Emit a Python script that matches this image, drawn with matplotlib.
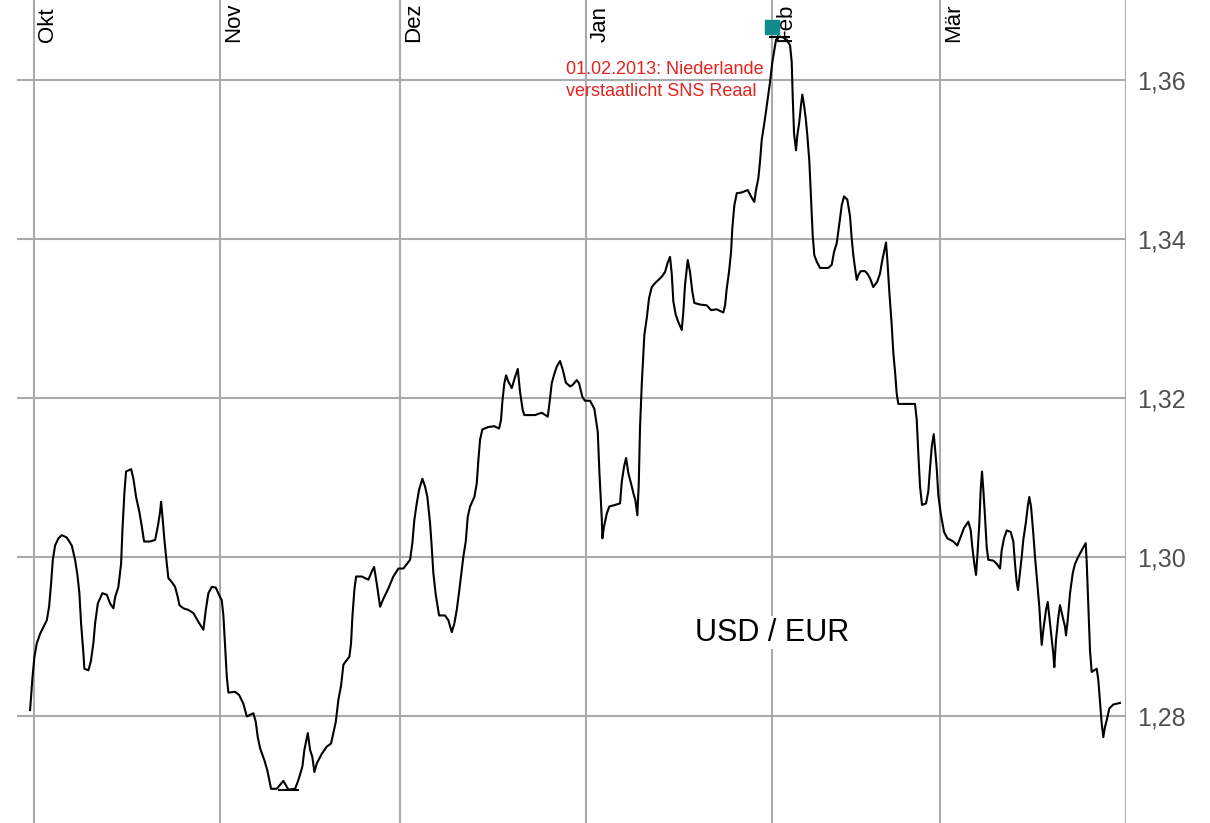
import numpy as np
import pandas as pd
import matplotlib
matplotlib.use("Agg")
import matplotlib.pyplot as plt
from matplotlib.ticker import FuncFormatter

plt.rcParams['font.family'] = ['Liberation Sans', 'DejaVu Sans']

# USD/EUR rate, x as days since 01.10.2012
days = [
    -0.62, -0.23, 0.1, 0.5, 1.05, 2.17, 2.55, 2.88, 3.17, 3.55, 4.1, 4.67, 5.5, 6.33, 6.88, 7.27, 7.6, 7.88, 8.27, 8.43,
    9.1, 9.5, 9.93, 10.22, 10.67, 11.43, 12.17, 12.72, 13.27, 13.55, 14.1, 14.55, 14.77, 15.1, 15.38, 16.22, 16.6, 17.05, 17.6, 18.0,
    18.38, 19.38, 20.22, 20.67, 21.05, 21.22, 21.43, 21.77, 22.17, 22.43, 23.0, 23.55, 24.0, 24.27, 24.93, 25.77, 26.6, 27.43, 28.27, 28.67,
    29.1, 29.67, 30.33, 30.88, 31.33, 31.6, 31.88, 32.17, 32.43, 33.55, 34.22, 34.93, 35.5, 36.05, 36.6, 37.0, 37.33, 37.72, 38.43, 38.93,
    39.55, 40.5, 41.6, 42.43, 43.55, 44.1, 44.77, 45.1, 45.67, 46.05, 46.43, 46.77, 47.17, 48.0, 48.83, 49.55, 49.93, 50.33, 50.77, 51.22,
    51.6, 52.17, 52.6, 52.88, 53.1, 53.43, 53.72, 54.67, 55.77, 56.33, 56.72, 57.17, 57.72, 58.27, 59.1, 59.93, 60.77, 61.6, 62.72, 63.1,
    63.43, 63.83, 64.22, 64.77, 65.22, 65.6, 66.05, 66.33, 66.6, 67.0, 67.55, 68.55, 69.1, 69.67, 70.1, 70.5, 70.93, 71.33, 71.6, 72.0,
    72.33, 72.72, 73.43, 73.83, 74.1, 74.38, 74.77, 75.77, 76.77, 77.55, 77.88, 78.1, 78.43, 78.72, 79.1, 79.67, 80.22, 80.67, 81.05, 81.5,
    81.77, 83.55, 84.67, 85.67, 86.05, 86.33, 86.77, 87.17, 87.72, 88.17, 88.67, 89.38, 89.83, 90.5, 90.88, 91.43, 91.88, 92.72, 93.43, 94.0,
    94.27, 94.67, 94.77, 95.05, 95.5, 95.93, 96.88, 97.72, 98.0, 98.38, 98.72, 99.1, 99.55, 99.93, 100.27, 100.6, 100.83, 101.05, 101.33, 101.77,
    102.17, 102.55, 103.0, 103.55, 104.67, 105.22, 105.67, 106.05, 106.33, 106.6, 107.0, 107.43, 108.0, 108.27, 108.55, 109.0, 109.38, 109.77, 110.1, 111.05,
    112.17, 112.88, 113.83, 114.93, 115.22, 115.5, 115.88, 116.22, 116.43, 116.77, 117.17, 118.0, 119.0, 119.55, 120.1, 120.33, 120.77, 121.05, 121.33, 121.88,
    122.33, 122.72, 123.1, 123.38, 123.72, 124.27, 124.93, 125.5, 126.05, 126.33, 126.5, 126.72, 127.05, 127.27, 127.6, 127.88, 128.1, 128.38, 128.67, 128.93,
    129.27, 129.55, 129.83, 130.1, 130.5, 131.05, 132.43, 133.0, 133.38, 133.83, 134.1, 134.38, 134.67, 135.05, 135.6, 136.05, 136.33, 136.6, 136.88, 137.17,
    137.43, 137.83, 138.55, 138.93, 139.38, 139.93, 140.6, 141.05, 141.38, 141.72, 142.05, 142.27, 142.6, 143.0, 143.27, 143.55, 143.83, 144.1, 146.88, 147.17,
    147.43, 147.72, 148.05, 148.72, 149.1, 149.38, 149.67, 150.0, 150.22, 150.5, 150.77, 151.17, 151.72, 152.27, 153.27, 153.93, 154.5, 155.05, 155.77, 156.17,
    156.43, 156.77, 157.05, 157.27, 157.6, 157.83, 158.05, 158.27, 158.55, 158.83, 159.1, 159.93, 160.5, 161.05, 161.33, 161.72, 162.17, 162.83, 163.27, 163.55,
    163.83, 164.05, 164.38, 164.67, 164.93, 165.38, 165.67, 165.93, 166.22, 166.6, 166.88, 167.27, 167.6, 167.83, 168.0, 168.27, 168.72, 169.0, 169.27, 169.55,
    169.93, 170.1, 170.38, 170.77, 171.05, 171.5, 171.88, 172.05, 172.33, 172.72, 173.17, 173.55, 174.1, 174.67, 175.33, 175.5, 175.77, 176.05, 176.33, 177.17,
    177.43, 177.72, 178.0, 178.27, 178.55, 178.83, 179.27, 179.93, 181.05,
]
rate = [
    1.2808, 1.2848, 1.2875, 1.2892, 1.2904, 1.2921, 1.2938, 1.2967, 1.2997, 1.3015, 1.3024, 1.3028, 1.3025, 1.3015, 1.2997, 1.2978, 1.2955, 1.2917, 1.2879, 1.2860,
    1.2858, 1.2869, 1.2892, 1.2917, 1.2942, 1.2955, 1.2953, 1.2942, 1.2936, 1.2950, 1.2963, 1.2992, 1.3034, 1.3081, 1.3108, 1.3111, 1.3099, 1.3076, 1.3057, 1.3039,
    1.3020, 1.3020, 1.3022, 1.3039, 1.3057, 1.3070, 1.3053, 1.3022, 1.2992, 1.2974, 1.2969, 1.2963, 1.2950, 1.2940, 1.2936, 1.2934, 1.2930, 1.2919, 1.2909, 1.2934,
    1.2955, 1.2963, 1.2962, 1.2953, 1.2946, 1.2927, 1.2888, 1.2850, 1.2830, 1.2831, 1.2827, 1.2816, 1.2800, 1.2802, 1.2804, 1.2793, 1.2774, 1.2760, 1.2745, 1.2732,
    1.2709, 1.2709, 1.2719, 1.2708, 1.2709, 1.2720, 1.2737, 1.2758, 1.2779, 1.2758, 1.2749, 1.2730, 1.2741, 1.2753, 1.2762, 1.2766, 1.2779, 1.2793, 1.2821, 1.2839,
    1.2865, 1.2871, 1.2875, 1.2892, 1.2925, 1.2959, 1.2976, 1.2976, 1.2972, 1.2982, 1.2988, 1.2967, 1.2938, 1.2948, 1.2961, 1.2976, 1.2986, 1.2986, 1.2997, 1.3018,
    1.3047, 1.3068, 1.3085, 1.3099, 1.3089, 1.3076, 1.3043, 1.3013, 1.2980, 1.2953, 1.2927, 1.2927, 1.2921, 1.2906, 1.2917, 1.2934, 1.2959, 1.2984, 1.3001, 1.3020,
    1.3051, 1.3064, 1.3076, 1.3093, 1.3122, 1.3148, 1.3161, 1.3164, 1.3165, 1.3162, 1.3173, 1.3196, 1.3219, 1.3229, 1.3221, 1.3213, 1.3227, 1.3237, 1.3208, 1.3185,
    1.3179, 1.3179, 1.3182, 1.3177, 1.3200, 1.3219, 1.3231, 1.3240, 1.3247, 1.3236, 1.3220, 1.3215, 1.3217, 1.3223, 1.3219, 1.3202, 1.3197, 1.3197, 1.3187, 1.3158,
    1.3108, 1.3049, 1.3024, 1.3039, 1.3055, 1.3064, 1.3066, 1.3068, 1.3095, 1.3114, 1.3125, 1.3106, 1.3093, 1.3081, 1.3072, 1.3053, 1.3091, 1.3164, 1.3217, 1.3280,
    1.3301, 1.3326, 1.3340, 1.3345, 1.3353, 1.3359, 1.3371, 1.3378, 1.3357, 1.3322, 1.3305, 1.3296, 1.3286, 1.3309, 1.3343, 1.3374, 1.3359, 1.3334, 1.3320, 1.3318,
    1.3317, 1.3311, 1.3312, 1.3308, 1.3317, 1.3338, 1.3359, 1.3384, 1.3414, 1.3443, 1.3458, 1.3459, 1.3462, 1.3454, 1.3447, 1.3460, 1.3477, 1.3498, 1.3525, 1.3552,
    1.3577, 1.3598, 1.3623, 1.3636, 1.3651, 1.3655, 1.3654, 1.3651, 1.3644, 1.3623, 1.3579, 1.3533, 1.3512, 1.3531, 1.3548, 1.3569, 1.3582, 1.3569, 1.3552, 1.3531,
    1.3498, 1.3452, 1.3405, 1.3380, 1.3372, 1.3364, 1.3364, 1.3368, 1.3384, 1.3395, 1.3410, 1.3426, 1.3443, 1.3454, 1.3450, 1.3429, 1.3401, 1.3380, 1.3364, 1.3349,
    1.3355, 1.3360, 1.3360, 1.3357, 1.3351, 1.3340, 1.3347, 1.3357, 1.3372, 1.3384, 1.3396, 1.3374, 1.3334, 1.3292, 1.3257, 1.3234, 1.3206, 1.3193, 1.3193, 1.3173,
    1.3131, 1.3089, 1.3066, 1.3068, 1.3083, 1.3112, 1.3139, 1.3155, 1.3137, 1.3112, 1.3078, 1.3055, 1.3032, 1.3024, 1.3020, 1.3015, 1.3026, 1.3037, 1.3045, 1.3034,
    1.3013, 1.2992, 1.2978, 1.3001, 1.3043, 1.3085, 1.3108, 1.3085, 1.3051, 1.3013, 1.2997, 1.2996, 1.2992, 1.2986, 1.3009, 1.3024, 1.3034, 1.3032, 1.3020, 1.2992,
    1.2969, 1.2959, 1.2982, 1.3001, 1.3022, 1.3045, 1.3064, 1.3076, 1.3064, 1.3030, 1.3001, 1.2967, 1.2938, 1.2909, 1.2890, 1.2909, 1.2934, 1.2944, 1.2925, 1.2904,
    1.2879, 1.2862, 1.2896, 1.2925, 1.2940, 1.2925, 1.2913, 1.2902, 1.2921, 1.2955, 1.2980, 1.2992, 1.3001, 1.3009, 1.3018, 1.2994, 1.2938, 1.2883, 1.2856, 1.2860,
    1.2846, 1.2818, 1.2791, 1.2774, 1.2787, 1.2795, 1.2810, 1.2815, 1.2817,
]

months = ['Okt', 'Nov', 'Dez', 'Jan', 'Feb', 'Mär']
yticks = [1.28, 1.30, 1.32, 1.34, 1.36]
event_date = '2013-02-01'
event_text = '01.02.2013: Niederlande\nverstaatlicht SNS Reaal'
event_marker = 1.3667
title_text = 'USD / EUR'
title_level = 1.2905

grid_col = '#aaaaae'

start = pd.Timestamp('2012-10-01')
dates = start + pd.to_timedelta(days, unit='D')
rate = np.array(rate)
month_starts = pd.date_range('2012-10-01', '2013-04-01', freq='MS')

fig = plt.figure(figsize=(12.1, 8.23), dpi=100)
ax = fig.add_axes([17 / 1210, 0, (1125.7 - 17) / 1210, 1])

ax.plot(dates, rate, color='black', lw=1.5, zorder=3)

# hoch / tief markierung
for i in [rate.argmax(), rate.argmin()]:
    ax.hlines(rate[i], dates[i] - pd.Timedelta(days=1.8), dates[i] + pd.Timedelta(days=1.8),
              color='black', lw=1.5, zorder=3)

ax.set_xlim(start - pd.Timedelta(days=2.8), month_starts[-1])
ax.set_ylim(1.2666, 1.3701)

ax.set_xticks(month_starts)
ax.set_yticks(yticks)
ax.yaxis.tick_right()
ax.yaxis.set_major_formatter(FuncFormatter(lambda v, p: ('%.2f' % v).replace('.', ',')))
ax.tick_params(axis='x', length=0, labelbottom=False)
ax.tick_params(axis='y', length=0, pad=8, labelsize=18, labelcolor='#505050')
ax.grid(True, color=grid_col, lw=1.5)
ax.set_axisbelow(True)
for s in ax.spines.values():
    s.set_visible(False)

for m, d in zip(months, month_starts[:-1]):
    ax.annotate(m, xy=(d, 1), xycoords=('data', 'axes fraction'),
                xytext=(2.5, -30), textcoords='offset points',
                rotation=90, ha='left', va='bottom', fontsize=16, color='black')

ev = pd.Timestamp(event_date)
ax.plot([ev], [event_marker], 's', ms=9.5, color='#0f8c8c', zorder=4, clip_on=False)
ax.annotate(event_text, xy=(ev, 1), xycoords=('data', 'axes fraction'),
            xytext=(-6, -44), textcoords='offset points',
            ha='right', va='top', multialignment='left',
            fontsize=13, color='#e3231f', linespacing=1.4)

ax.text(ev, title_level, title_text, ha='center', va='center', fontsize=22, color='black',
        bbox=dict(facecolor='white', edgecolor='none', pad=1))

fig.savefig('out.png', dpi=100)
